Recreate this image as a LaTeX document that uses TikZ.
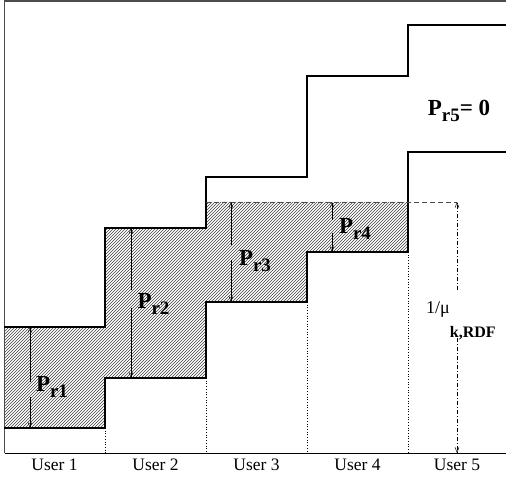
\documentclass[tikz,border=0pt]{standalone}
\usepackage{fontspec}
\setmainfont{Liberation Serif}
\usetikzlibrary{arrows.meta,patterns}

\newcommand{\prsub}[1]{P\raisebox{-6pt}{\fontsize{19}{19}\selectfont r#1}}

\begin{document}
\begin{tikzpicture}[
    x=1pt, y=-1pt,
    every node/.style={inner sep=0pt},
    stair/.style={line width=2.4pt, line join=miter},
    plabel/.style={font=\fontsize{23}{26}\selectfont\bfseries},
    ulabel/.style={font=\fontsize{17.5}{20}\selectfont},
    thin arrow/.style={line width=0.5pt},
    >={Straight Barb[length=5pt,width=4pt]}
]

\useasboundingbox (0,0) rectangle (506,489);

% Shaded power
\fill[pattern=north east lines, pattern color=black!75]
    (4,428) -| (105,378) -| (206,302) -| (307,252) -| (408,202)
    -| (206,228) -| (105,327) -| (4,428) -- cycle;

% Frame
\draw[line width=1.5pt, black!70] (4.5,453) -- (4.5,1) -- (506,1);
\draw[line width=1pt] (4.5,453) -- (506,453);

% Column separators
\foreach \x/\y in {105/428, 206/378, 307/302, 408/252}
    \draw[dotted, line width=0.7pt] (\x,\y) -- (\x,453);

% Staircases
\draw[stair] (4,327) -| (105,228) -| (206,177) -| (307,76) -| (408,25) -- (506,25);
\draw[stair] (4,428) -| (105,378) -| (206,302) -| (307,252) -| (408,152) -- (506,152);

% Water level
\coordinate (wl) at (206,202);
\coordinate (wr) at (457,202);
\coordinate (wb) at (457,453);
\draw[black!70, line width=0.8pt, dash pattern=on 5pt off 3pt] (wl) -- (wr);

% Power labels
\foreach \i/\x/\t/\gt/\gb/\b/\lx/\ly in {
    1/30/327/382/397/428/52/386.5,
    2/131/228/290/308/378/153.5/304,
    3/231/202/245/260/302/255/261,
    4/332/202/220/233/252/355/228.5}
{
    \node[plabel] (pr\i) at (\lx,\ly) {\prsub{\i}};
    \coordinate (pt\i) at (\x,\t);
    \coordinate (gt\i) at (\x,\gt);
    \coordinate (gb\i) at (\x,\gb);
    \coordinate (pb\i) at (\x,\b);
    \draw[->, thin arrow] (gt\i) -- (pt\i);
    \draw[->, thin arrow] (gb\i) -- (pb\i);
}

\node[plabel] (pr5) at (459,111) {\prsub{5}= 0};

% Water level label
\node[anchor=base west, font=\fontsize{18}{20}\selectfont] (mu) at (426,313)
    {1/μ\raisebox{-24pt}{\fontsize{16}{16}\selectfont\bfseries k,RDF}};
\coordinate (gmt) at (457,290);
\coordinate (gmb) at (457,338);
\draw[->, thin arrow, dash pattern=on 4pt off 2pt on 1pt off 2pt] (gmt) -- (wr);
\draw[->, thin arrow, dash pattern=on 4pt off 2pt on 1pt off 2pt] (gmb) -- (wb);

% Users
\foreach \k/\x in {1/54.5, 2/155.5, 3/256.5, 4/357.5, 5/457}
    \node[ulabel, anchor=base] (user\k) at (\x,470) {User \k};

\end{tikzpicture}
\end{document}
